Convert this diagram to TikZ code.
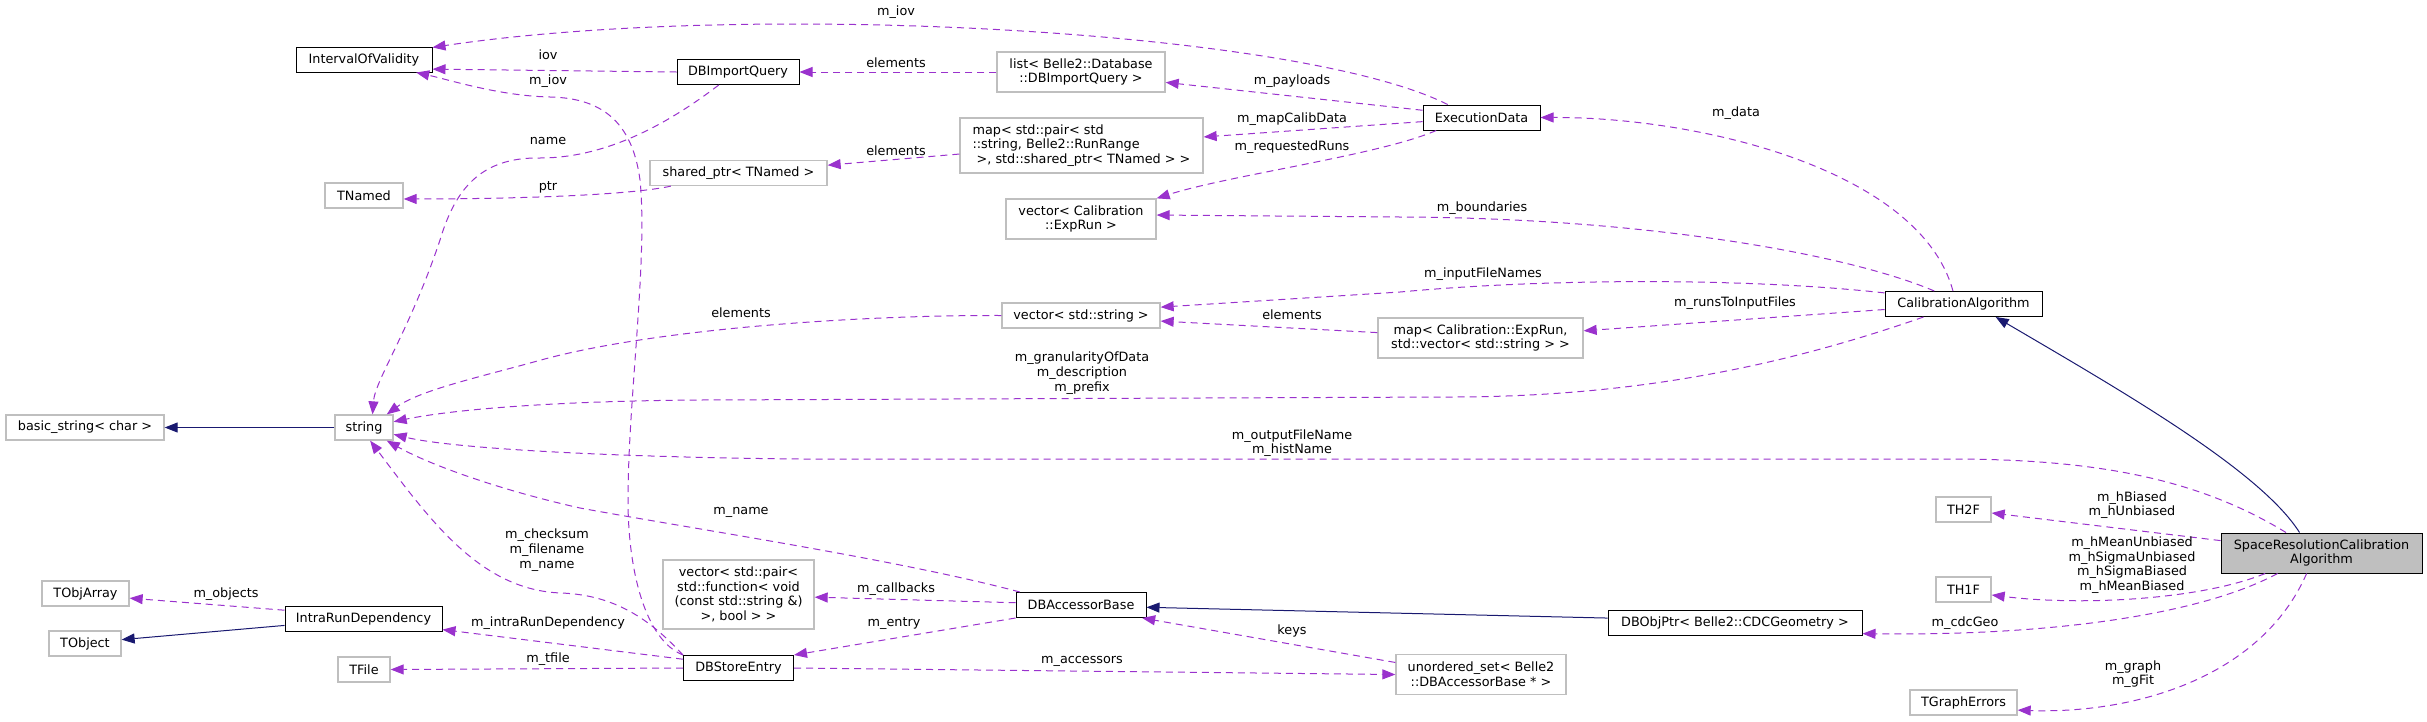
\documentclass[tikz,border=0pt]{standalone}
\usepackage{fontspec}
\setmainfont{DejaVu Sans}
\usetikzlibrary{arrows.meta}
\definecolor{edgepurple}{HTML}{9A32CD}
\definecolor{inhblue}{HTML}{191970}
\definecolor{boxgray}{HTML}{BFBFBF}

\begin{document}
\begin{tikzpicture}[x=1pt,y=-1pt,line width=1pt,font=\fontsize{12.8}{14.7}\selectfont] % collaboration graph
\tikzstyle{cls}=[draw=black,line width=1pt,minimum height=25pt,inner sep=2pt,align=center]
\tikzstyle{ext}=[cls,draw=boxgray,line width=1.3pt]
\tikzstyle{lbl}=[inner sep=0pt,align=center]
\tikzstyle{use}=[draw=edgepurple,dash pattern=on 7pt off 5pt,-{Triangle[length=13pt,width=10pt]}]
\tikzstyle{inh}=[draw=inhblue,-{Triangle[length=13pt,width=10pt]}]
\useasboundingbox (0,0) rectangle (2427,721);

% classes
\draw (364,59.5) node[cls,minimum width=136pt] (iov) {IntervalOfValidity}; % IntervalOfValidity
\draw (738,72) node[cls,minimum width=122pt] (dbiq) {DBImportQuery}; % DBImportQuery
\draw (364,195.5) node[ext,minimum width=78pt] (tnamed) {TNamed}; % TNamed
\draw (738.5,173) node[ext,minimum width=177pt] (sptr) {shared\_ptr< TNamed >}; % shared_ptr
\draw (85,427.5) node[ext,minimum width=158pt] (bstr) {basic\_string< char >}; % basic_string
\draw (364,427.5) node[ext,minimum width=58pt] (str) {string}; % string
\draw (85.5,593.5) node[ext,minimum width=87pt] (tobjarr) {TObjArray}; % TObjArray
\draw (85,643.5) node[ext,minimum width=72pt] (tobj) {TObject}; % TObject
\draw (363.5,618.5) node[cls,minimum width=157pt] (irdep) {IntraRunDependency}; % IntraRunDependency
\draw (364,669.5) node[ext,minimum width=52pt] (tfile) {TFile}; % TFile
\draw (738.5,668) node[cls,minimum width=110pt] (dbse) {DBStoreEntry}; % DBStoreEntry
\draw (738.5,594.5) node[ext,minimum width=151pt,minimum height=69pt] (vcb) {vector< std::pair<\\ std::function< void\\ (const std::string \&)\\ >, bool > >}; % callbacks
\draw (1081,72) node[ext,minimum width=168pt,minimum height=40pt] (lstq) {list< Belle2::Database\\ ::DBImportQuery >}; % list
\draw (1481.5,117.5) node[cls,minimum width=117pt] (exd) {ExecutionData}; % ExecutionData
\draw (1081.5,145.5) node[ext,minimum width=243pt,minimum height=55pt,align=left] (mcd) {map< std::pair< std\\ ::string, Belle2::RunRange\\ \ >, std::shared\_ptr< TNamed > >}; % map calib data
\draw (1081,219) node[ext,minimum width=150pt,minimum height=40pt] (vrun) {vector< Calibration\\ ::ExpRun >}; % vector ExpRun
\draw (1081,315.5) node[ext,minimum width=158pt] (vstr) {vector< std::string >}; % vector string
\draw (1480.5,338) node[ext,minimum width=205pt,minimum height=40pt] (mrun) {map< Calibration::ExpRun,\\ std::vector< std::string > >}; % map runs
\draw (1081,605) node[cls,minimum width=130pt] (dbab) {DBAccessorBase}; % DBAccessorBase
\draw (1481,674.5) node[ext,minimum width=170pt,minimum height=40pt] (uset) {unordered\_set< Belle2\\ ::DBAccessorBase * >}; % unordered_set
\draw (1963.5,304) node[cls,minimum width=157pt] (calg) {CalibrationAlgorithm}; % CalibrationAlgorithm
\draw (1963.5,509.5) node[ext,minimum width=55pt] (th2) {TH2F}; % TH2F
\draw (2321.5,553) node[cls,fill=boxgray,minimum width=201pt,minimum height=40pt] (srca) {SpaceResolutionCalibration\\ Algorithm}; % main class
\draw (1963.5,589.5) node[ext,minimum width=55pt] (th1) {TH1F}; % TH1F
\draw (1735,622.5) node[cls,minimum width=254pt] (dbop) {DBObjPtr< Belle2::CDCGeometry >}; % DBObjPtr
\draw (1963.5,702.5) node[ext,minimum width=107pt] (tge) {TGraphErrors}; % TGraphErrors

% inheritance
\draw[inh] (str.west) -- (bstr.east); % string
\draw[inh] (irdep.185) -- (tobj.6); % IntraRunDependency
\draw[inh] (srca.137) .. controls (2260,470) and (2120,390) .. (calg.-22); % main class
\draw[inh] (dbop.178) -- (dbab.-2); % DBObjPtr

% members
\draw[use] (exd.159) .. controls (1300,30) and (750,0) .. (iov.10); % m_iov
\draw (896,12) node[lbl] (l1) {m\_iov};
\draw[use] (dbiq.west) -- (iov.-8); % iov
\draw (548,55) node[lbl] (l2) {iov};
\draw[use] (dbse.north west) .. controls (645,640) and (628,570) .. (628,500) .. controls (628,400) and (648,260) .. (640,180) .. controls (632,120) and (600,98) .. (550,97) .. controls (500,96) and (450,80) .. (iov.-14); % m_iov
\draw (548,81) node[lbl] (l3) {m\_iov};
\draw[use] (dbiq.-146) .. controls (660,130) and (600,158) .. (540,158) .. controls (480,157) and (455,190) .. (440,240) .. controls (410,330) and (375,380) .. (str.57); % name
\draw (548,141) node[lbl] (l4) {name};
\draw[use] (sptr.-169) .. controls (620,197) and (480,199) .. (tnamed.-5); % ptr
\draw (548,187) node[lbl] (l5) {ptr};
\draw[use] (lstq.west) -- (dbiq.east); % elements
\draw (896,63) node[lbl] (l6) {elements};
\draw[use] (exd.173) -- (lstq.-7); % m_payloads
\draw (1292,81) node[lbl] (l7) {m\_payloads};
\draw[use] (exd.184) -- (mcd.4); % m_mapCalibData
\draw (1292,119) node[lbl] (l8) {m\_mapCalibData};
\draw[use] (exd.-164) .. controls (1380,155) and (1230,175) .. (vrun.north east); % m_requestedRuns
\draw (1292,147) node[lbl] (l9) {m\_requestedRuns};
\draw[use] (mcd.184) -- (sptr.5); % elements
\draw (896,151) node[lbl] (l10) {elements};
\draw[use] (calg.129) .. controls (1920,170) and (1700,117) .. (exd.east); % m_data
\draw (1736,113) node[lbl] (l11) {m\_data};
\draw[use] (calg.156) .. controls (1850,255) and (1650,218) .. (1400,217) -- (vrun.3); % m_boundaries
\draw (1482,208) node[lbl] (l12) {m\_boundaries};
\draw[use] (calg.172) .. controls (1750,278) and (1550,278) .. (1400,292) -- (vstr.6); % m_inputFileNames
\draw (1483,274) node[lbl] (l13) {m\_inputFileNames};
\draw[use] (calg.184) -- (mrun.4); % m_runsToInputFiles
\draw (1735,303) node[lbl] (l14) {m\_runsToInputFiles};
\draw[use] (mrun.177) -- (vstr.-4); % elements
\draw (1292,315) node[lbl] (l15) {elements};
\draw[use] (vstr.west) .. controls (850,315) and (650,330) .. (541,360) .. controls (480,377) and (420,390) .. (str.30); % elements
\draw (741,313) node[lbl] (l16) {elements};
\draw[use] (calg.-162) .. controls (1800,360) and (1650,397) .. (1450,397) -- (700,400) .. controls (550,401) and (450,410) .. (str.11); % m_prefix
\draw (1082,373) node[lbl] (l17) {m\_granularityOfData\\m\_description\\m\_prefix};
\draw[use] (srca.150) .. controls (2200,480) and (2100,459) .. (1950,459) -- (800,459) .. controls (600,457) and (450,448) .. (str.-13); % m_histName
\draw (1292,443) node[lbl] (l18) {m\_outputFileName\\m\_histName};
\draw[use] (dbab.168) .. controls (900,560) and (700,530) .. (580,508) .. controls (500,490) and (430,465) .. (str.-30); % m_name
\draw (741,512) node[lbl] (l19) {m\_name};
\draw[use] (dbse.north west) .. controls (655,625) and (620,595) .. (561,593) .. controls (480,590) and (430,520) .. (str.-65); % m_checksum
\draw (547,550) node[lbl] (l20) {m\_checksum\\m\_filename\\m\_name};
\draw[use] (dbse.171) -- (irdep.-8); % m_intraRunDependency
\draw (548,623) node[lbl] (l21) {m\_intraRunDependency};
\draw[use] (dbse.west) -- (tfile.east); % m_tfile
\draw (548,659) node[lbl] (l22) {m\_tfile};
\draw[use] (irdep.174) -- (tobjarr.-6); % m_objects
\draw (226,594) node[lbl] (l23) {m\_objects};
\draw[use] (dbab.178) -- (vcb.-2); % m_callbacks
\draw (896,589) node[lbl] (l24) {m\_callbacks};
\draw[use] (dbab.south west) -- (dbse.north east); % m_entry
\draw (894,624) node[lbl] (l25) {m\_entry};
\draw[use] (dbse.east) -- (uset.west); % m_accessors
\draw (1082,661) node[lbl] (l26) {m\_accessors};
\draw[use] (uset.172) -- (dbab.-12); % keys
\draw (1292,631) node[lbl] (l27) {keys};
\draw[use] (srca.173) -- (th2.-7); % m_hBiased
\draw (2132,505) node[lbl] (l28) {m\_hBiased\\m\_hUnbiased};
\draw[use] (srca.-160) .. controls (2200,600) and (2080,606) .. (th1.-11); % m_hMean
\draw (2132,565) node[lbl] (l29) {m\_hMeanUnbiased\\m\_hSigmaUnbiased\\m\_hSigmaBiased\\m\_hMeanBiased};
\draw[use] (srca.-155) .. controls (2200,615) and (2050,636) .. (dbop.-5); % m_cdcGeo
\draw (1965,623) node[lbl] (l30) {m\_cdcGeo};
\draw[use] (srca.-126) .. controls (2260,680) and (2130,714) .. (tge.-8); % m_graph
\draw (2133,674) node[lbl] (l31) {m\_graph\\m\_gFit};
\end{tikzpicture}
\end{document}
